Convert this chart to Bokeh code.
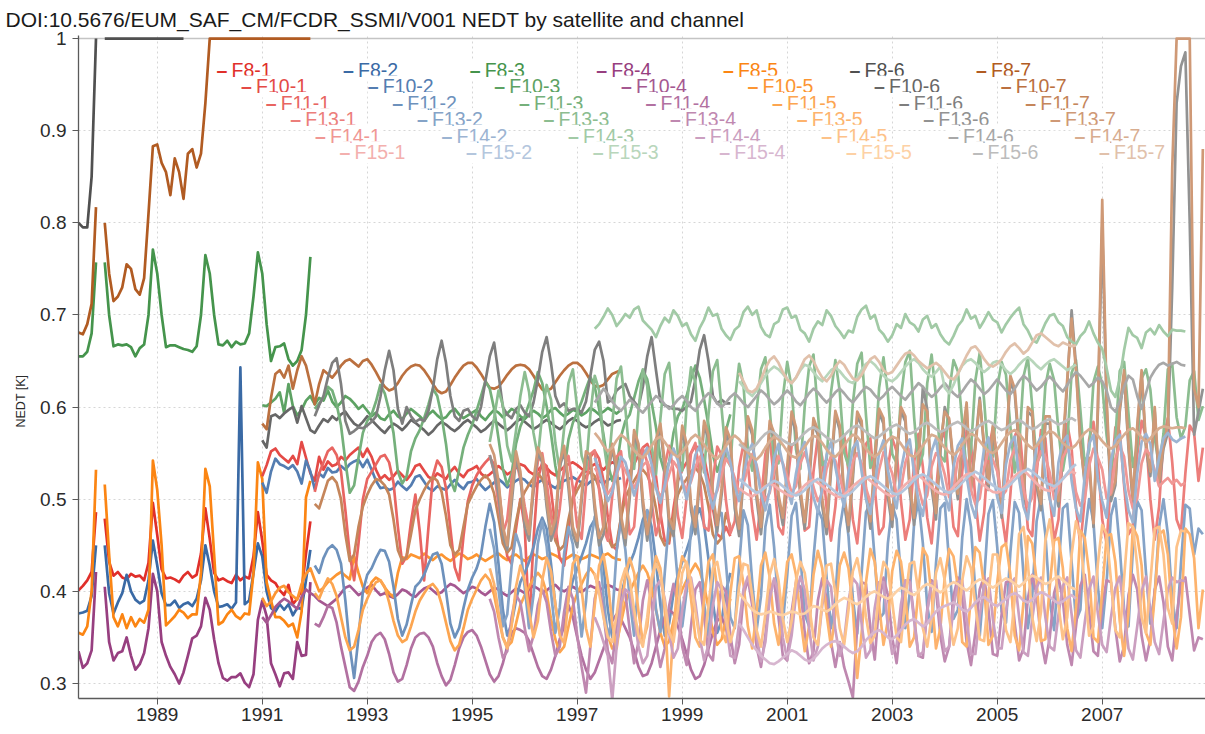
import math
from bokeh.plotting import figure
from bokeh.models import Range1d, FixedTicker, Label, Span, CustomJSTickFormatter, Title
from bokeh.embed import file_html
from bokeh.resources import INLINE

N = float("nan")

# ---------------------------------------------------------------------------
# Monthly NEDT per satellite and channel, in mK (NaN = no data that month)
# ---------------------------------------------------------------------------
satellites = ["F8", "F10", "F11", "F13", "F14", "F15"]
first_month = {"F8": (1987, 7), "F10": (1991, 1), "F11": (1992, 1),
               "F13": (1995, 5), "F14": (1997, 5), "F15": (2000, 2)}
channels = [1, 2, 3, 4, 5, 6, 7]
channel_colors = ["#e02f2a", "#3a6aa5", "#45944c", "#973f80", "#fb8513", "#505050", "#b15b22"]
sat_strength = [1.0, 0.87, 0.74, 0.62, 0.5, 0.38]

# ---- channel 1 ----
f8_1 = [401, 406, 412, 421, 486, N,
        479, 432, 417, 421, 415, 413, 419, 416, 417, 412, 431, 496,
        461, 424, 414, 415, 413, 410, 417, 421, 415, 418, 441, 490,
        457, 420, 412, 414, 411, 409, 418, 412, 416, 414, 438, 486,
        455, 418, 412, 409, 401, 396, 407, 386, 392, 401, 441, 476]
f10_1 = [525, 537, 552, 555, 548, 544, 540, 547, 538, 562, 545, 528,
         520, 546, 532, 541, 536, 538, 546, 542, 548, 552, 556, 546,
         555, 546, 532, 522, 526, 521, 525, 531, 526, 521, 527, 536,
         538, 531, 524, 522, 528, 525, 522, 530, 535, 528, 524, 531,
         533, 536, 528, 524, 527, 531, 536, 532, 527, 530, 534, 538,
         536, 530, 527, 532, 536, 534, 529, 526, 531, 535, 538, 540,
         537, 533, 530, 535, 538, 536, 532, 537, 540, 538, 541]
f11_1 = [508, 528, 540, 552, 556, 548, 530, 488, 440, 412, 452, 500,
         522, 530, 538, 546, 548, 540, 518, 470, 430, 438, 475, 505,
         465, 412, 470, 525, 542, 535, 512, 468, 426, 412, 460, 498,
         515, 526, 534, 540, 545, 538, 515, 472, 438, 430, 468, 500,
         470, 362, 455, 522, 540, 536, 510, 470, 436, 428, 466, 502,
         520, 528, 535, 546, 552, 544, 520, 480, 450, 445, 480, 512,
         530, 538, 548, 556, 560, 548, 525, 485, 455, 452, 490, 520,
         532, 540, 550, 558, 555, 545, 522, 490, 462, 458, 470, 460]
f13_1 = [548, 530, 494, 463, 478, 522, 544, 521,
         492, 468, 508, 541, 550, 519, 481, 459, 490, 534, 547, 512,
         470, 457, 515, 549, 553, 510, 468, 455, 503, 546, 552, 505,
         462, 470, 528, 555, 540, 497, 461, 478, 536, 558, 530, 482,
         458, 502, 550, 561, 524, 470, 466, 520, 557, 548, 498, 463,
         476, 535, 560, 538, 488, 456, 497, 549, 566, 520, 470, 462,
         515, 558, 562, 509, 466, 470, 530, 568, 545, 490, 455, 492,
         548, 570, 530, 478, 452, 505, 560, 566, 512, 462, 470, 533,
         566, 552, 498, 456, 478, 540, 571, 535, 480, 452, 508, 562,
         574, 520, 470, 460, 530, 575, 560, 500, 455, 485, 552, 578,
         545, 485, 452, 505, 568, 580, 528, 468, 460, 528, 575, 566,
         505, 455, 478, 548, 582, 555, 492, 450, 500, 565, 584, 540,
         478, 452, 520, 578, 574, 515, 462, 470, 548, 585, 568, 500,
         456, 492, 566, 588, 540, 478, 465, 528, 580, 572, 520, 556]
f14_1 = [534, 527, 514, 506, 513, 527, 539, 531,
         521, 512, 523, 537, 541, 529, 513, 503, 511, 527, 541, 534,
         520, 509, 519, 535, 546, 533, 517, 501, 509, 527, 544, 537,
         523, 507, 517, 534, 549, 537, 514, 499, 507, 531, 547, 539,
         524, 507, 514, 539, 551, 536, 513, 498, 506, 533, 547, 542,
         525, 504, 515, 541, 550, 539, 512, 497, 505, 532, 551, 541,
         528, 505, 511, 540, 554, 540, 513, 494, 504, 535, 550, 544,
         527, 502, 512, 543, 553, 541, 510, 495, 501, 534, 553, 543,
         530, 503, 509, 542, 556, 544, 511, 492, 502, 537, 552, 546,
         529, 500, 510, 545, 555, 543, 508, 493, 499, 536, 555, 545,
         532, 501, 507, 544, 558, 546, 509, 490, 501, 539, 554, 548,
         531, 514, 519, 523, 517, 521, 515, 518]
f15_1 = [512, 508, 505, 503, 506, 510, 514, 517, 515, 511, 508,
         505, 503, 506, 510, 515, 519, 521, 518, 514, 510, 507, 504,
         502, 505, 509, 514, 518, 522, 524, 520, 516, 512, 508, 505,
         503, 506, 511, 516, 520, 524, 526, 522, 517, 513, 509, 506,
         505, 508, 513, 518, 523, 527, 528, 524, 519, 515, 511, 508,
         507, 510, 515, 520, 525, 529, 531, 527, 522, 517, 513, 510,
         509, 512, 517, 522, 527, 530, 528]

# ---- channel 2 ----
f8_2 = [376, 377, 379, 395, 450, N,
        450, 398, 376, 388, 398, 418, 400, 391, 387, 390, 412, 455,
        428, 398, 385, 385, 390, 382, 386, 388, 384, 392, 412, 450,
        428, 400, 383, 384, 386, 381, 388, 643, 386, 390, 420, 452,
        438, 400, 382, 378, 386, 380, 386, 374, 382, 381, 412, 445]
f10_2 = [518, 507, 530, 544, 538, 536, 533, 537, 530, 517, 542, 530,
         511, 528, 524, 534, 529, 530, 536, 532, 538, 541, 543, 535,
         543, 532, 520, 512, 513, 510, 512, 519, 514, 510, 515, 524,
         526, 519, 512, 509, 514, 512, 510, 516, 521, 515, 511, 518,
         519, 522, 515, 510, 514, 518, 522, 518, 513, 516, 520, 523,
         521, 516, 513, 518, 521, 519, 515, 512, 517, 520, 522, 524,
         521, 518, 515, 519, 522, 520, 517, 521, 523, 521, 523]
f11_2 = [428, 420, 436, 446, 450, 445, 430, 390, 340, 306, 350, 400,
         418, 425, 436, 445, 444, 432, 405, 370, 352, 364, 385, 405,
         410, 418, 430, 440, 442, 430, 400, 365, 350, 360, 382, 402,
         415, 425, 440, 470, 495, 475, 430, 380, 352, 365, 390, 410,
         420, 432, 448, 468, 480, 468, 430, 385, 355, 360, 392, 412,
         425, 438, 452, 470, 478, 465, 428, 380, 350, 362, 395, 415,
         430, 442, 458, 478, 488, 470, 432, 385, 352, 365, 398, 418,
         432, 445, 460, 480, 490, 472, 435, 388, 355, 368, 400, 420]
f13_2 = [468, 446, 402, 362, 375, 428, 462, 447,
         404, 360, 396, 452, 476, 449, 399, 355, 382, 441, 470, 451,
         398, 351, 389, 449, 481, 454, 395, 349, 371, 444, 477, 445,
         391, 352, 413, 470, 488, 442, 380, 356, 420, 478, 466, 410,
         362, 400, 468, 492, 450, 386, 352, 414, 480, 485, 430, 372,
         360, 428, 488, 472, 410, 358, 395, 470, 494, 448, 382, 365,
         418, 482, 496, 440, 375, 362, 436, 490, 478, 415, 360, 392,
         468, 498, 460, 392, 354, 420, 486, 495, 435, 370, 376, 452,
         494, 478, 415, 360, 398, 474, 498, 452, 384, 356, 430, 490,
         496, 432, 370, 380, 458, 500, 470, 400, 352, 412, 484, 499,
         448, 378, 366, 442, 497, 485, 418, 360, 395, 476, 502, 462,
         390, 358, 425, 490, 495, 432, 368, 380, 460, 500, 475, 405,
         360, 410, 482, 501, 448, 380, 362, 445, 498, 488, 420, 365,
         398, 470, 500, 462, 392, 360, 430, 494, 490, 440, 468, 462]
f14_2 = [545, 532, 512, 498, 508, 528, 546, 540,
         522, 504, 520, 545, 556, 538, 512, 496, 515, 540, 555, 542,
         518, 500, 522, 548, 558, 536, 508, 490, 512, 542, 557, 540,
         515, 498, 525, 550, 560, 535, 505, 488, 510, 545, 560, 538,
         512, 495, 528, 552, 562, 532, 502, 486, 512, 548, 562, 535,
         510, 492, 530, 555, 563, 530, 500, 484, 515, 550, 564, 532,
         508, 490, 532, 556, 565, 528, 498, 482, 518, 552, 566, 530,
         505, 488, 535, 558, 566, 525, 495, 480, 520, 555, 567, 528,
         502, 485, 538, 560, 568, 522, 492, 478, 522, 558, 568, 525,
         500, 482, 540, 562, 569, 520, 490, 476, 525, 560, 570, 522,
         498, 480, 542, 564, 570, 518, 488, 475, 528, 562, 571, 560,
         520, 545, 566, 572, 565, 562, 566, 568]
f15_2 = [522, 518, 514, 510, 507, 509, 513, 517, 520, 518, 514,
         510, 506, 504, 506, 510, 515, 519, 522, 520, 516, 512, 508,
         505, 503, 505, 509, 514, 519, 523, 525, 522, 518, 514, 510,
         507, 505, 507, 511, 516, 521, 525, 527, 524, 520, 516, 512,
         509, 507, 509, 513, 518, 523, 527, 530, 527, 523, 519, 515,
         512, 510, 512, 516, 521, 526, 530, 533, 530, 526, 522, 518,
         516, 514, 517, 522, 528, 534, 538]

# ---- channel 3 ----
f8_3 = [655, 655, 660, 680, 757, N,
        757, 700, 666, 668, 667, 668, 665, 655, 664, 668, 700, 771,
        745, 700, 665, 667, 667, 665, 663, 662, 660, 666, 700, 765,
        745, 700, 668, 667, 672, 665, 671, 668, 669, 680, 720, 768,
        745, 690, 650, 665, 666, 669, 652, 645, 650, 662, 700, 763]
f10_3 = [602, 601, 605, 609, 616, 594, 625, 601, 591, 597, 607, 612,
         603, 610, 607, 618, 606, 600, 605, 612, 609, 604, 598, 602,
         596, 590, 594, 588, 586, 592, 596, 590, 587, 593, 598, 594,
         590, 585, 592, 596, 591, 587, 589, 595, 598, 592, 588, 591,
         594, 597, 590, 586, 592, 597, 594, 589, 593, 598, 595, 590,
         587, 592, 596, 593, 588, 591, 597, 599, 594, 590, 593, 597,
         595, 591, 594, 599, 596, 592, 595, 599, 596, 593, 597]
f11_3 = [598, 604, 611, 622, 618, 603, 580, 541, 507, 515, 545, 572,
         585, 592, 606, 624, 615, 596, 572, 530, 517, 525, 552, 566,
         575, 588, 603, 620, 612, 590, 560, 521, 509, 532, 556, 570,
         581, 596, 612, 628, 620, 598, 566, 533, 515, 528, 560, 579,
         590, 604, 618, 638, 626, 601, 571, 536, 512, 530, 565, 583,
         594, 606, 620, 633, 622, 598, 570, 538, 520, 535, 568, 585,
         592, 610, 628, 640, 630, 605, 578, 545, 528, 540, 572, 590,
         598, 612, 630, 645, 632, 608, 580, 548, 530, 545, 575, 592]
f13_3 = [562, 588, 618, 602, 558, 541, 574, 612,
         638, 616, 572, 546, 592, 624, 608, 561, 531, 577, 626, 641,
         598, 547, 532, 592, 634, 618, 563, 529, 582, 631, 644, 598,
         546, 533, 596, 641, 623, 558, 527, 587, 636, 648, 603, 549,
         531, 601, 643, 627, 561, 529, 592, 639, 651, 598, 546, 536,
         606, 647, 624, 556, 531, 597, 641, 654, 597, 541, 539, 611,
         649, 621, 554, 533, 601, 644, 657, 594, 537, 543, 616, 651,
         617, 551, 536, 604, 647, 659, 591, 534, 546, 621, 654, 614,
         549, 539, 611, 649, 661, 589, 533, 549, 626, 657, 611, 547,
         541, 616, 651, 639, 584, 531, 553, 629, 659, 607, 544, 546,
         621, 649, 635, 579, 529, 557, 633, 654, 601, 539, 549, 623,
         647, 629, 574, 531, 561, 637, 651, 597, 537, 553, 627, 644,
         624, 569, 533, 566, 639, 649, 593, 535, 557, 631, 641, 619,
         566, 536, 571, 641, 647, 589, 566, 579, 629, 639, 586, 601]
f14_3 = [685, 690, 698, 707, 700, 688, 694, 701,
         697, 706, 709, 694, 689, 684, 676, 688, 697, 692, 705, 699,
         688, 691, 679, 672, 686, 695, 708, 699, 701, 685, 678, 673,
         684, 688, 703, 709, 700, 705, 687, 679, 676, 690, 693, 706,
         708, 697, 699, 684, 680, 671, 685, 693, 689, 705, 699, 688,
         682, 675, 683, 681, 698, 706, 710, 696, 700, 684, 679, 671,
         678, 690, 686, 701, 692, 689, 682, 695, 699, 686, 690, 679,
         672, 668, 677, 688, 694, 706, 696, 699, 686, 694, 703, 695,
         692, 681, 690, 697, 703, 708, 690, 683, 673, 670, 680, 691,
         699, 701, 692, 688, 676, 671, 668, 677, 682, 693, 680, 670,
         663, 642, 618, 611, 630, 662, 686, 678, 675, 664, 681, 685,
         679, 689, 682, 677, 684, 683, 683, 682]
f15_3 = [628, 622, 616, 612, 618, 626, 634, 640, 644, 641, 636,
         630, 626, 632, 640, 646, 644, 638, 632, 628, 634, 640, 643,
         639, 633, 628, 626, 632, 640, 647, 650, 646, 640, 634, 630,
         628, 632, 638, 644, 649, 652, 648, 641, 636, 633, 638, 644,
         621, 615, 624, 636, 645, 650, 652, 648, 642, 638, 642, 648,
         650, 646, 640, 636, 640, 646, 651, 654, 650, 645, 641, 646,
         650, 652, 648, 644, 640, 643, 646]

# ---- channel 4 ----
f8_4 = [335, 317, 322, 336, 421, N,
        405, 345, 325, 333, 335, 350, 330, 315, 321, 333, 360, 419,
        400, 345, 330, 318, 310, 300, 312, 330, 349, 352, 362, 393,
        380, 348, 322, 306, 303, 307, 307, 311, 301, 296, 310, 369,
        390, 373, 322, 310, 297, 311, 312, 305, 345, 330, 331, 410]
f10_4 = [372, 366, 374, 383, 388, 392, 389, 385, 381, 394, 402, 398,
         395, 390, 387, 384, 388, 392, 398, 404, 406, 401, 396, 399,
         404, 407, 401, 396, 398, 395, 393, 397, 402, 400, 396, 394,
         399, 403, 405, 401, 397, 399, 404, 408, 406, 402, 398, 401,
         405, 403, 399, 396, 400, 404, 402, 398, 395, 399, 403, 401,
         398, 402, 406, 403, 399, 401, 405, 407, 402, 400, 403, 405,
         402, 399, 403, 406, 404, 401, 404, 407, 405, 402, 401]
f11_4 = [365, 362, 372, 384, 382, 366, 340, 318, 296, 292, 302, 318,
         330, 345, 352, 355, 348, 332, 312, 302, 305, 320, 338, 350,
         354, 355, 350, 340, 322, 308, 298, 304, 320, 338, 350, 356,
         358, 352, 340, 325, 310, 302, 308, 322, 340, 355, 360, 358,
         355, 346, 332, 318, 308, 305, 315, 330, 348, 362, 385, 372,
         350, 330, 315, 305, 312, 325, 338, 352, 368, 375, 370, 360,
         350, 335, 318, 308, 310, 322, 340, 358, 372, 380, 376, 362,
         348, 332, 315, 305, 308, 320, 338, 355, 368, 372, 360, 340]
f13_4 = [392, 378, 350, 328, 335, 372, 396, 388,
         360, 335, 352, 385, 402, 388, 356, 330, 340, 378, 405, 392,
         352, 318, 290, 340, 392, 410, 376, 335, 322, 365, 402, 398,
         358, 322, 345, 390, 412, 388, 345, 318, 338, 384, 408, 386,
         340, 320, 362, 402, 410, 372, 332, 325, 372, 406, 400, 352,
         322, 342, 395, 414, 385, 340, 318, 352, 400, 412, 372, 330,
         325, 378, 410, 405, 355, 322, 335, 390, 414, 392, 345, 318,
         345, 318, 302, 285, 362, 410, 408, 360, 326, 388, 415, 396,
         350, 322, 368, 408, 412, 372, 330, 328, 380, 412, 402, 352,
         324, 340, 395, 415, 392, 345, 320, 355, 402, 416, 380, 332,
         330, 375, 410, 412, 365, 325, 338, 392, 418, 396, 348, 322,
         350, 398, 415, 390, 342, 320, 362, 406, 418, 378, 335, 330,
         385, 412, 410, 360, 324, 340, 396, 418, 402, 352, 325, 348,
         402, 416, 388, 340, 325, 372, 410, 415, 375, 336, 350, 348]
f14_4 = [372, 360, 345, 330, 282, 340, 388, 402,
         398, 372, 340, 322, 330, 368, 405, 412, 392, 355, 328, 338,
         380, 408, 415, 388, 350, 325, 342, 385, 410, 402, 366, 330,
         328, 365, 402, 416, 395, 352, 324, 345, 392, 414, 398, 350,
         326, 352, 396, 416, 402, 360, 325, 340, 385, 412, 405, 358,
         330, 346, 390, 414, 408, 365, 328, 336, 382, 410, 410, 362,
         332, 342, 386, 412, 410, 368, 330, 334, 378, 408, 412, 366,
         335, 340, 382, 410, 412, 370, 332, 332, 374, 406, 414, 370,
         338, 338, 378, 408, 414, 372, 334, 330, 370, 404, 415, 372,
         340, 336, 375, 406, 415, 375, 336, 328, 366, 402, 416, 376,
         342, 334, 372, 404, 416, 378, 338, 326, 362, 400, 416, 380,
         345, 332, 368, 402, 415, 410, 412, 411]
f15_4 = [365, 358, 350, 342, 336, 330, 326, 322, 321, 324, 328,
         332, 336, 334, 330, 326, 324, 327, 332, 338, 342, 345, 346,
         344, 340, 336, 333, 335, 340, 347, 352, 356, 358, 355, 350,
         348, 352, 358, 364, 368, 370, 366, 362, 365, 372, 378, 382,
         384, 386, 388, 385, 380, 378, 382, 388, 392, 394, 390, 386,
         384, 388, 392, 396, 398, 395, 390, 388, 391, 396, 399, 397,
         394, 390, 387, 389, 393, 396, 392]

# ---- channel 5 ----
f8_5 = [355, 353, 362, 400, 532, N,
        516, 440, 372, 362, 375, 360, 372, 362, 370, 366, 380, 542,
        510, 450, 363, 368, 373, 380, 377, 371, 375, 375, 420, 533,
        514, 440, 364, 367, 375, 380, 373, 370, 376, 375, 420, 540,
        522, 410, 390, 372, 372, 368, 362, 365, 350, 378, 502, 520]
f10_5 = [393, 384, 389, 398, 404, 406, 399, 395, 391, 408, 419, 425,
         412, 400, 404, 410, 414, 418, 421, 417, 413, 438, 420, 405,
         398, 410, 415, 412, 404, 398, 394, 420, 437, 435, 440, 438,
         436, 441, 437, 434, 438, 440, 436, 433, 437, 441, 439, 435,
         437, 440, 436, 433, 436, 439, 441, 437, 434, 438, 440, 436,
         433, 437, 440, 438, 435, 437, 441, 439, 436, 434, 437, 440,
         438, 435, 437, 440, 438, 436, 439, 441, 437, 435, 434]
f11_5 = [398, 392, 404, 414, 408, 395, 372, 350, 336, 340, 358, 380,
         392, 402, 410, 412, 405, 388, 368, 352, 345, 348, 362, 378,
         390, 398, 405, 408, 402, 386, 366, 346, 336, 342, 360, 380,
         392, 402, 412, 418, 412, 396, 372, 350, 340, 345, 365, 385,
         396, 405, 414, 420, 414, 398, 370, 348, 334, 340, 362, 384,
         398, 408, 418, 425, 418, 402, 376, 352, 338, 344, 366, 388,
         400, 410, 420, 428, 420, 404, 380, 355, 340, 346, 368, 390,
         402, 412, 422, 430, 422, 406, 382, 356, 342, 348, 370, 392]
f13_5 = [425, 408, 378, 350, 338, 362, 405, 428,
         412, 378, 350, 368, 412, 436, 422, 386, 352, 344, 392, 430,
         438, 402, 360, 340, 385, 428, 440, 410, 365, 338, 372, 418,
         436, 420, 378, 345, 362, 410, 438, 425, 380, 286, 358, 412,
         438, 430, 392, 350, 340, 392, 432, 440, 402, 358, 345, 398,
         436, 438, 408, 362, 338, 378, 428, 442, 415, 365, 342, 388,
         432, 440, 418, 372, 335, 362, 418, 444, 425, 375, 340, 375,
         428, 442, 425, 382, 306, 355, 410, 446, 432, 385, 342, 368,
         422, 444, 432, 395, 340, 350, 402, 447, 438, 395, 338, 360,
         415, 446, 438, 405, 345, 340, 395, 448, 442, 405, 342, 352,
         410, 448, 452, 418, 352, 336, 388, 460, 452, 412, 346, 348,
         405, 455, 458, 425, 360, 335, 382, 466, 458, 420, 350, 345,
         400, 460, 462, 432, 368, 330, 376, 470, 460, 428, 355, 342,
         395, 462, 466, 440, 375, 338, 372, 468, 462, 436, 360, 402]
f14_5 = [420, 398, 372, 350, 345, 375, 410, 425,
         412, 380, 352, 340, 372, 415, 430, 418, 388, 356, 345, 380,
         420, 432, 410, 378, 348, 342, 385, 425, 432, 405, 370, 345,
         362, 405, 430, 428, 395, 358, 340, 375, 418, 435, 412, 370,
         345, 368, 412, 432, 420, 385, 350, 342, 390, 428, 430, 398,
         360, 342, 380, 422, 436, 410, 372, 344, 352, 402, 432, 424,
         388, 350, 345, 392, 430, 432, 398, 360, 340, 372, 420, 436,
         412, 372, 342, 360, 412, 438, 425, 385, 348, 346, 398, 440,
         440, 402, 358, 345, 392, 462, 470, 430, 372, 346, 378, 455,
         478, 440, 385, 348, 372, 440, 476, 458, 405, 352, 362, 430,
         472, 462, 412, 358, 350, 415, 474, 470, 428, 372, 355, 410,
         468, 470, 440, 382, 365, 448, 466, 465]
f15_5 = [398, 392, 386, 380, 377, 375, 376, 378, 377, 375, 374,
         376, 378, 377, 375, 376, 380, 384, 383, 380, 378, 381, 386,
         390, 393, 391, 388, 386, 389, 394, 398, 400, 397, 394, 392,
         395, 400, 404, 402, 398, 396, 400, 405, 408, 406, 402, 399,
         402, 407, 410, 408, 404, 401, 405, 410, 413, 411, 407, 404,
         407, 411, 414, 412, 408, 405, 409, 414, 417, 415, 411, 408,
         410, 414, 416, 412, 408, 404, 402]

# ---- channel 6 ----
f8_6 = [800, 795, 795, 850, 1000, N,
        1000, 1000, 1000, 1000, 1000, 1000, 1000, 1000, 1000, 1000, 1000, 1000,
        1000, 1000, 1000, 1000, 1000, 1000, 1000]
f10_6 = [564, 556, 590, 592, 588, 593, 597, 600, 583, 601, 588, 575,
         572, 580, 587, 584, 590, 586, 592, 595, 588, 582, 579, 584,
         590, 586, 581, 576, 572, 578, 582, 579, 575, 580, 586, 583,
         579, 575, 570, 574, 580, 584, 581, 577, 574, 578, 583, 586,
         582, 578, 573, 576, 581, 585, 582, 578, 575, 579, 584, 587,
         584, 580, 576, 579, 583, 586, 583, 579, 576, 580, 585, 588,
         585, 581, 578, 580, 584, 587, 584, 580, 582, 585, 586]
f11_6 = [590, 602, 612, 632, 648, 653, 625, 585, 571, 574, 578, 577,
         580, 584, 590, 611, 640, 661, 640, 598, 582, 600, 590, 584,
         587, 585, 596, 620, 652, 672, 648, 612, 590, 585, 596, 598,
         590, 586, 600, 628, 655, 670, 636, 600, 592, 588, 598, 602,
         594, 590, 605, 630, 660, 676, 648, 612, 600, 604, 596, 598,
         598, 594, 606, 634, 662, 671, 650, 605, 608, 618, 622, 625,
         612, 606, 600, 622, 655, 676, 640, 606, 602, 600, 598, 598,
         596, 600, 606, 630, 662, 678, 650, 612, 604, 608, 604, 604]
f13_6 = [548, 530, 505, 460, 445, 495, 545, 525,
         470, 455, 512, 550, 540, 492, 455, 470, 535, 552, 512, 462,
         448, 498, 548, 542, 488, 450, 462, 525, 556, 528, 475, 450,
         502, 570, 555, 492, 455, 488, 560, 578, 532, 472, 460, 518,
         575, 552, 488, 462, 520, 580, 565, 498, 465, 505, 572, 558,
         490, 460, 522, 585, 570, 500, 462, 512, 580, 566, 498, 472,
         528, 590, 572, 502, 468, 518, 582, 570, 492, 462, 530, 592,
         575, 498, 465, 522, 590, 580, 505, 468, 538, 594, 582, 502,
         470, 545, 596, 584, 508, 472, 540, 622, 598, 512, 478, 552,
         600, 585, 535, 500, 560, 600, 510, 560, 610, 555, 510, 575,
         535, 480, 555, 628, 615, 555, 495, 595, 590, 515, 488, 582,
         582, 515, 492, 552, 625, 705, 645, 565, 515, 540, 470, 595,
         795, 600, 498, 515, 595, 635, 555, 495, 575, 635, 555, 525,
         595, 515, 555, 572, 730, 930, 970, 985, 800, 570, 595, 620]
f14_6 = [605, 612, 620, 614, 606, 600, 596, 602,
         608, 604, 598, 594, 600, 606, 612, 609, 603, 598, 602, 608,
         612, 607, 600, 596, 603, 610, 615, 611, 604, 600, 605, 611,
         615, 610, 604, 600, 606, 612, 618, 614, 608, 603, 607, 613,
         618, 613, 606, 602, 608, 615, 620, 616, 610, 605, 610, 616,
         620, 615, 609, 605, 611, 617, 622, 619, 613, 608, 612, 618,
         622, 617, 612, 608, 614, 620, 626, 622, 616, 611, 615, 621,
         626, 620, 615, 611, 617, 624, 630, 626, 620, 614, 618, 624,
         630, 624, 618, 614, 620, 628, 634, 630, 624, 618, 622, 628,
         633, 628, 622, 617, 624, 632, 638, 634, 628, 622, 626, 632,
         628, 618, 600, 595, 606, 622, 634, 630, 612, 598, 615, 632,
         640, 646, 648, 645, 647, 649, 646, 645]
f15_6 = [560, 556, 553, 555, 560, 566, 571, 574, 572, 568, 564,
         561, 559, 562, 567, 572, 576, 578, 575, 571, 567, 564, 562,
         565, 569, 574, 578, 580, 577, 573, 569, 566, 568, 572, 576,
         579, 581, 578, 574, 571, 573, 577, 581, 583, 580, 576, 573,
         575, 579, 582, 584, 581, 577, 574, 576, 580, 583, 585, 582,
         578, 575, 577, 581, 584, 586, 583, 579, 576, 578, 582, 585,
         587, 584, 581, 583, 586, 588, 585]

# ---- channel 7 ----
f8_7 = [681, 679, 690, 712, 817, N,
        800, 745, 715, 720, 730, 755, 750, 728, 722, 740, 810, 883,
        885, 865, 855, 830, 870, 855, 826, 875, 880, 860, 875, 930,
        1000, 1000, 1000, 1000, 1000, 1000, 1000, 1000, 1000, 1000, 1000, 1000,
        1000, 1000, 1000, 1000, 1000, 1000, 1000, 1000, 1000, 1000, 1000, 1000]
f10_7 = [582, 576, 610, 636, 640, 632, 645, 620, 640, 655, 645, 625,
         603, 625, 640, 636, 632, 638, 645, 650, 652, 648, 644, 650,
         652, 646, 638, 629, 622, 618, 620, 626, 634, 640, 644, 646,
         645, 640, 633, 625, 618, 615, 617, 624, 632, 639, 645, 648,
         648, 643, 636, 628, 621, 620, 622, 628, 635, 641, 645, 646,
         645, 641, 634, 626, 619, 618, 620, 627, 634, 640, 645, 648,
         648, 644, 637, 629, 623, 622, 624, 630, 636, 638, 640]
f11_7 = [495, 490, 505, 520, 524, 518, 500, 462, 433, 440, 470, 492,
         505, 515, 522, 520, 515, 505, 478, 445, 433, 438, 462, 488,
         500, 510, 518, 524, 520, 508, 482, 450, 440, 445, 470, 495,
         505, 514, 521, 526, 520, 506, 480, 452, 442, 448, 475, 498,
         508, 516, 523, 528, 522, 510, 485, 455, 445, 450, 478, 500,
         510, 518, 525, 530, 525, 512, 488, 458, 448, 452, 480, 502,
         512, 520, 528, 532, 526, 514, 490, 460, 450, 455, 482, 505,
         515, 522, 530, 534, 528, 515, 492, 462, 452, 458, 485, 470]
f13_7 = [560, 548, 520, 470, 450, 505, 552, 530,
         480, 462, 520, 556, 545, 500, 462, 478, 540, 558, 520, 470,
         455, 505, 552, 548, 495, 458, 470, 530, 560, 535, 482, 458,
         510, 575, 560, 500, 462, 495, 565, 582, 540, 480, 468, 525,
         580, 560, 495, 470, 528, 585, 570, 505, 472, 512, 578, 565,
         498, 468, 530, 590, 575, 508, 470, 520, 585, 572, 505, 480,
         535, 595, 578, 510, 475, 525, 588, 575, 500, 470, 538, 596,
         580, 505, 472, 530, 595, 585, 512, 476, 545, 598, 588, 510,
         478, 550, 600, 590, 515, 480, 548, 603, 595, 520, 485, 560,
         595, 588, 540, 506, 567, 605, 512, 555, 607, 560, 517, 580,
         540, 488, 560, 634, 620, 560, 500, 600, 595, 520, 495, 590,
         590, 520, 498, 560, 630, 696, 640, 560, 520, 545, 474, 600,
         825, 610, 505, 520, 600, 640, 560, 500, 580, 640, 560, 530,
         600, 520, 560, 580, 860, 1000, 1000, 1000, 1000, 620, 600, 880]
f14_7 = [572, 566, 558, 552, 556, 564, 570, 566,
         560, 553, 548, 545, 550, 558, 565, 568, 562, 555, 549, 546,
         551, 558, 566, 570, 566, 559, 552, 547, 544, 550, 558, 565,
         569, 565, 558, 551, 546, 543, 548, 556, 563, 568, 565, 559,
         552, 547, 545, 550, 557, 564, 569, 567, 561, 554, 548, 546,
         551, 558, 565, 570, 568, 562, 555, 549, 546, 550, 557, 564,
         568, 566, 560, 553, 548, 546, 551, 558, 565, 570, 568, 562,
         556, 551, 548, 552, 559, 566, 571, 569, 563, 557, 552, 550,
         554, 561, 568, 573, 575, 571, 565, 559, 555, 558, 564, 570,
         574, 572, 567, 561, 557, 555, 559, 566, 572, 576, 574, 569,
         563, 558, 555, 558, 564, 570, 575, 577, 573, 567, 562, 566,
         572, 577, 579, 578, 577, 578, 578, 577]
f15_7 = [637, 628, 618, 616, 620, 630, 642, 651, 655, 648, 638,
         630, 626, 632, 642, 652, 656, 650, 640, 632, 628, 634, 644,
         650, 646, 638, 631, 629, 635, 644, 652, 655, 649, 640, 636,
         638, 645, 652, 658, 660, 656, 650, 646, 642, 645, 648, 644,
         638, 632, 630, 636, 646, 656, 664, 666, 660, 652, 646, 644,
         647, 652, 660, 666, 669, 664, 658, 662, 670, 678, 680, 676,
         672, 668, 666, 670, 668, 666, 667]

series = {
    "F8":  [f8_1, f8_2, f8_3, f8_4, f8_5, f8_6, f8_7],
    "F10": [f10_1, f10_2, f10_3, f10_4, f10_5, f10_6, f10_7],
    "F11": [f11_1, f11_2, f11_3, f11_4, f11_5, f11_6, f11_7],
    "F13": [f13_1, f13_2, f13_3, f13_4, f13_5, f13_6, f13_7],
    "F14": [f14_1, f14_2, f14_3, f14_4, f14_5, f14_6, f14_7],
    "F15": [f15_1, f15_2, f15_3, f15_4, f15_5, f15_6, f15_7],
}

x_ticks = [1989, 1991, 1993, 1995, 1997, 1999, 2001, 2003, 2005, 2007]
y_ticks = [0.3, 0.4, 0.5, 0.6, 0.7, 0.8, 0.9, 1.0]


def tint(hex_color, strength):
    h = hex_color.lstrip("#")
    rgb = [int(h[i:i + 2], 16) for i in (0, 2, 4)]
    mixed = [round(c * strength + 255 * (1 - strength)) for c in rgb]
    return "#%02x%02x%02x" % tuple(mixed)


FONT = "Liberation Sans"
W, H = 1205, 734
FRAME_L, FRAME_B = 78, 698

p = figure(width=W, height=H, output_backend="svg", toolbar_location=None,
           x_range=Range1d(1987.5, 2008.967), y_range=Range1d(0.2837, 1.0033))
p.min_border_left = FRAME_L
p.min_border_right = 0
p.min_border_top = 35
p.min_border_bottom = H - FRAME_B
p.outline_line_color = None
p.background_fill_color = "white"
p.border_fill_color = "white"

# title
p.title.text = "DOI:10.5676/EUM_SAF_CM/FCDR_SSMI/V001 NEDT by satellite and channel"
p.title.text_font = FONT
p.title.text_font_size = "21px"
p.title.text_font_style = "normal"
p.title.text_color = "#1a1a1a"
p.title.align = "left"
p.title.offset = -73
p.title.standoff = 9

# axes
p.xaxis.ticker = FixedTicker(ticks=x_ticks)
p.yaxis.ticker = FixedTicker(ticks=y_ticks)
p.yaxis.formatter = CustomJSTickFormatter(code="return tick > 0.99 ? '1' : tick.toFixed(1);")
for ax in (p.xaxis, p.yaxis):
    ax.axis_line_color = "#5a5a5a"
    ax.axis_line_width = 1.3
    ax.major_tick_line_color = "#5a5a5a"
    ax.major_tick_out = 6
    ax.major_tick_in = 0
    ax.minor_tick_line_color = None
    ax.major_label_text_font = FONT
    ax.major_label_text_font_size = "19px"
    ax.major_label_text_color = "#2b2b2b"
p.xaxis.major_label_standoff = 3
p.yaxis.major_label_standoff = 6

# y-axis caption as a side title, started from the frame bottom and lifted
p.add_layout(Title(text="NEDT [K]", align="left", offset=271, standoff=19,
                   text_font=FONT, text_font_size="12.5px", text_font_style="normal",
                   text_color="#2b2b2b"), "left")

for g in (p.xgrid, p.ygrid):
    g.grid_line_color = "#d6d6d6"
    g.grid_line_dash = "2 3"
    g.grid_line_width = 1

p.add_layout(Span(location=1.0, dimension="width", line_color="#c4c4c4",
                  line_width=1.5, level="underlay"))

# one line per satellite/channel
for si, sat in enumerate(satellites):
    y0, m0 = first_month[sat]
    start = y0 + (m0 - 1) / 12.0
    for ci, ch in enumerate(channels):
        vals = series[sat][ci]
        xs = [start + k / 12.0 for k in range(len(vals))]
        ys = [v / 1000.0 if v == v else float("nan") for v in vals]
        p.line(xs, ys, line_color=tint(channel_colors[ci], sat_strength[si]),
               line_width=2.7, line_join="round")

# staircase legend
for si, sat in enumerate(satellites):
    for ci, ch in enumerate(channels):
        color = tint(channel_colors[ci], sat_strength[si])
        dash_x = 216 + 126.6 * ci + 24.6 * si
        yc = 69.5 + 16.45 * si
        p.add_layout(Label(x=dash_x + 15 - FRAME_L, y=FRAME_B - yc,
                           x_units="screen", y_units="screen",
                           text=f"{sat}-{ch}", text_font=FONT,
                           text_font_size="19.5px", text_color=color,
                           text_baseline="middle", text_align="left",
                           background_fill_color="white"))
        p.add_layout(Label(x=dash_x - FRAME_L, y=FRAME_B - yc,
                           x_units="screen", y_units="screen",
                           text="\u2013", text_font=FONT, text_font_style="bold",
                           text_font_size="19.5px", text_color=color,
                           text_baseline="middle", text_align="left",
                           background_fill_color="white"))

open("out.html", "w").write(file_html(p, INLINE))
